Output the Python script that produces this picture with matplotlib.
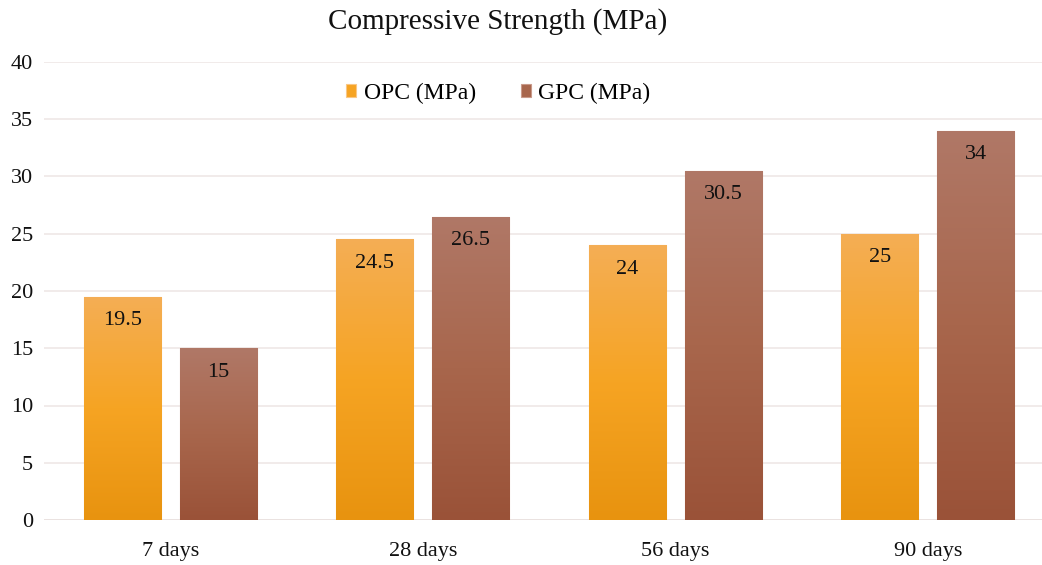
import matplotlib
matplotlib.use("Agg")
import matplotlib.pyplot as plt
import numpy as np
from matplotlib.colors import LinearSegmentedColormap

# compressive strength results
categories = ["7 days", "28 days", "56 days", "90 days"]
opc = [19.5, 24.5, 24, 25]
gpc = [15, 26.5, 30.5, 34]
series_names = ["OPC (MPa)", "GPC (MPa)"]

plt.rcParams['font.family'] = ['Liberation Serif', 'DejaVu Serif']

fig = plt.figure(figsize=(10.42, 5.65), dpi=100)
ax = fig.add_axes([44 / 1042, 45 / 565, 1010 / 1042, 458 / 565])

x = np.arange(len(categories))
width = 0.305
offset = 0.19

# top -> bottom gradient for each series
opc_cmap = LinearSegmentedColormap.from_list("opc", ["#E8930F", "#F6A423", "#F4AE55"])
gpc_cmap = LinearSegmentedColormap.from_list("gpc", ["#9A5238", "#A8664C", "#B07867"])

bars1 = ax.bar(x - offset, opc, width, color="#F6A423", edgecolor="#F9C785", linewidth=0.8, zorder=2)
bars2 = ax.bar(x + offset, gpc, width, color="#A8664C", edgecolor="#C99A8A", linewidth=0.8, zorder=2)

grad = np.linspace(0, 1, 256).reshape(-1, 1)
for bars, cmap in ((bars1, opc_cmap), (bars2, gpc_cmap)):
    for b in bars:
        x0, y0 = b.get_x(), b.get_y()
        w, h = b.get_width(), b.get_height()
        im = ax.imshow(grad, cmap=cmap, origin="lower", aspect="auto",
                       extent=(x0, x0 + w, y0, y0 + h), zorder=2.5)
        im.set_clip_path(b)

# value labels just inside the bar tops
for bars, vals in ((bars1, opc), (bars2, gpc)):
    for b, v in zip(bars, vals):
        ax.annotate(f"{v:g}", (b.get_x() + b.get_width() / 2, v),
                    xytext=(0, -24), textcoords="offset pixels",
                    ha="center", va="center", fontsize=16, color="#111111", zorder=4)

ax.set_xlim(-0.5, len(categories) - 0.5)
ax.set_ylim(0, 40)
ax.set_yticks(np.arange(0, 41, 5))
ax.set_xticks(x)
ax.set_xticklabels(categories)
ax.tick_params(axis="both", length=0, labelsize=16, colors="#111111")
ax.tick_params(axis="y", pad=8)
ax.tick_params(axis="x", pad=16)
ax.yaxis.grid(True, color="#EFE8E6", linewidth=1.2, zorder=0)
ax.set_axisbelow(True)
for s in ax.spines.values():
    s.set_visible(False)
ax.axhline(0, color="#E9E1DE", linewidth=1.2, zorder=1)

leg = ax.legend([bars1, bars2], series_names, loc="center", ncol=2,
                bbox_to_anchor=(0.478, 1 - 93 / 565), bbox_transform=fig.transFigure,
                frameon=False, fontsize=17, handlelength=0.45, handleheight=0.45,
                handletextpad=0.3, columnspacing=1.9)

fig.text(0.478, 1 - 22 / 565, "Compressive Strength (MPa)", ha="center", va="center",
         fontsize=21, color="#111111")

fig.savefig("out.png", dpi=100)
